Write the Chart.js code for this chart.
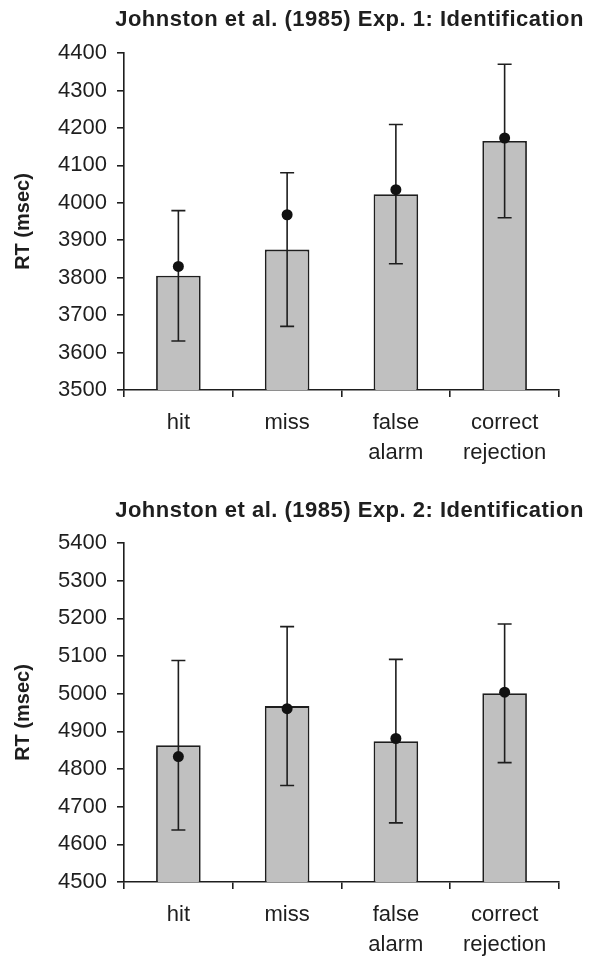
<!DOCTYPE html>
<html>
<head>
<meta charset="utf-8">
<script src="https://cdn.jsdelivr.net/npm/chart.js@4.4.1/dist/chart.umd.min.js"></script>
<style>
  html, body { margin: 0; padding: 0; background: #fff; }
  canvas { display: block; }
</style>
</head>
<body>
<canvas id="chart1" width="591" height="470"></canvas>
<canvas id="chart2" width="591" height="487"></canvas>
<script>
const categories = ["hit", "miss", ["false", "alarm"], ["correct", "rejection"]];

const titles = [
  "Johnston et al. (1985) Exp. 1: Identification",
  "Johnston et al. (1985) Exp. 2: Identification"
];

// bars = observed, dots = model, err = +/- around the bar
const exp1Bars = [3805, 3875, 4023, 4165];
const exp1Dots = [3830, 3968, 4035, 4173];
const exp1Err = [174, 205, 186, 205];

const exp2Bars = [4863, 4967, 4874, 5001];
const exp2Dots = [4833, 4960, 4881, 5004];
const exp2Err = [225, 211, 217, 184];

const exp1Range = [3500, 4400];
const exp2Range = [4500, 5400];
const tickStep = 100;

const FONT = "'Liberation Sans', Arial, sans-serif";
const INK = '#1e1e1e';

// error bars, drawn right after the bars so the dots sit on top
const errorBars = {
  id: 'errorBars',
  afterDatasetDraw(chart, args) {
    if (args.meta.type !== 'bar') return;
    const errs = chart.options.plugins.errorBars.err;
    const vals = chart.data.datasets[args.index].data;
    const y = chart.scales.y;
    const ctx = chart.ctx;
    ctx.save();
    ctx.strokeStyle = INK;
    ctx.lineWidth = 1.6;
    args.meta.data.forEach(function(bar, i) {
      const top = y.getPixelForValue(vals[i] + errs[i]);
      const bot = y.getPixelForValue(vals[i] - errs[i]);
      ctx.beginPath();
      ctx.moveTo(bar.x, top); ctx.lineTo(bar.x, bot);
      ctx.moveTo(bar.x - 7, top); ctx.lineTo(bar.x + 7, top);
      ctx.moveTo(bar.x - 7, bot); ctx.lineTo(bar.x + 7, bot);
      ctx.stroke();
    });
    ctx.restore();
  }
};

// title placed over the plot area (a bit right of the canvas centre)
const plotTitle = {
  id: 'plotTitle',
  afterDraw(chart) {
    const o = chart.options.plugins.plotTitle;
    const a = chart.chartArea;
    const ctx = chart.ctx;
    ctx.save();
    ctx.font = 'bold 22px ' + FONT;
    ctx.letterSpacing = '0.5px';
    ctx.fillStyle = INK;
    ctx.textAlign = 'center';
    ctx.textBaseline = 'middle';
    ctx.fillText(o.text, (a.left + a.right) / 2 + 8, a.top - o.gap);
    ctx.restore();
  }
};

function makeChart(id, title, bars, dots, err, range, padTop, padBottom, titleGap) {
  const ctx = document.getElementById(id).getContext('2d');
  return new Chart(ctx, {
    type: 'bar',
    data: {
      labels: categories,
      datasets: [{
        type: 'bar',
        data: bars,
        order: 2,
        backgroundColor: '#c0c0c0',
        borderColor: INK,
        borderWidth: 1.8,
        barPercentage: 0.41,
        categoryPercentage: 1
      }, {
        type: 'line',
        data: dots,
        order: 1,
        showLine: false,
        pointRadius: 5.5,
        pointBackgroundColor: '#111',
        pointBorderWidth: 0
      }]
    },
    options: {
      responsive: false,
      animation: false,
      layout: {
        padding: { top: padTop, bottom: padBottom, left: 8, right: 32 }
      },
      plugins: {
        legend: { display: false },
        tooltip: { enabled: false },
        errorBars: { err: err },
        plotTitle: { text: title, gap: titleGap }
      },
      scales: {
        x: {
          grid: { offset: true, drawOnChartArea: false, tickLength: 7, color: INK, lineWidth: 1.6 },
          border: { color: INK, width: 1.6 },
          ticks: {
            color: INK,
            padding: 11,
            maxRotation: 0,
            autoSkip: false,
            font: { family: FONT, size: 22, lineHeight: 30 / 22 }
          },
          afterFit: function(scale) { scale.height = 75; }
        },
        y: {
          min: range[0],
          max: range[1],
          grid: { drawOnChartArea: false, tickLength: 7, color: INK, lineWidth: 1.6 },
          border: { color: INK, width: 1.6 },
          ticks: {
            stepSize: tickStep,
            color: INK,
            padding: 10,
            font: { family: FONT, size: 22 },
            callback: function(value) {
              return String(value);
            }
          },
          title: {
            display: true,
            text: 'RT (msec)',
            color: INK,
            padding: { top: 3, bottom: 0 },
            font: { family: FONT, size: 20, weight: 'bold' }
          },
          afterFit: function(scale) { scale.width = 116; }
        }
      }
    },
    plugins: [errorBars, plotTitle]
  });
}

makeChart('chart1', titles[0], exp1Bars, exp1Dots, exp1Err, exp1Range, 53, 5, 33);
makeChart('chart2', titles[1], exp2Bars, exp2Dots, exp2Err, exp2Range, 73, 0, 32);
</script>
</body>
</html>
